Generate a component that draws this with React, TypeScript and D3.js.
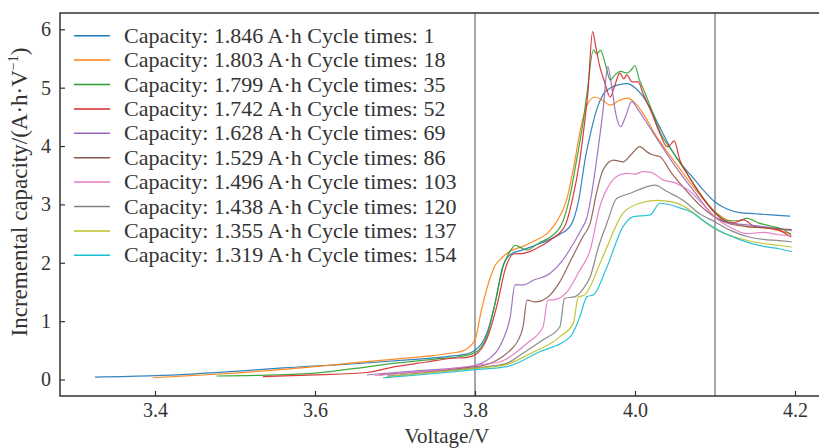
import React from 'react';
import * as d3 from 'd3';

// incremental capacity curves, [voltage, dQ/dV]
const cycle1 = [[3.325,0.04],[3.40,0.065],[3.50,0.14],[3.56,0.2],[3.65,0.27],[3.72,0.34],[3.77,0.4],[3.79,0.44],[3.80,0.5],[3.815,0.8],[3.825,1.3],[3.835,1.95],[3.845,2.15],[3.86,2.22],[3.875,2.3],[3.89,2.38],[3.905,2.48],[3.92,2.65],[3.93,3.1],[3.9375,3.76],[3.945,4.25],[3.952,4.62],[3.96,4.88],[3.97,5.0],[3.98,5.05],[3.99,5.07],[4.0,5.0],[4.01,4.85],[4.02,4.62],[4.03,4.35],[4.045,3.95],[4.06,3.65],[4.073,3.45],[4.085,3.25],[4.1,3.04],[4.115,2.92],[4.131,2.86],[4.15,2.84],[4.17,2.82],[4.194,2.8]];
const cycle18 = [[3.397,0.03],[3.45,0.07],[3.5,0.11],[3.55,0.16],[3.6,0.22],[3.644,0.28],[3.7,0.35],[3.74,0.4],[3.769,0.45],[3.785,0.49],[3.8,0.68],[3.808,1.19],[3.818,1.7],[3.825,1.95],[3.831,2.05],[3.844,2.2],[3.86,2.28],[3.875,2.38],[3.89,2.5],[3.902,2.7],[3.915,3.1],[3.925,3.76],[3.932,4.3],[3.94,4.7],[3.95,4.84],[3.96,4.78],[3.969,4.7],[3.98,4.78],[3.99,4.82],[4.0,4.74],[4.01,4.56],[4.027,4.16],[4.048,3.76],[4.073,3.3],[4.1,2.87],[4.12,2.7],[4.14,2.62],[4.16,2.6],[4.18,2.55],[4.195,2.5]];
const cycle35 = [[3.477,0.06],[3.55,0.08],[3.6,0.11],[3.65,0.19],[3.7,0.28],[3.75,0.35],[3.78,0.39],[3.8,0.46],[3.815,0.75],[3.825,1.3],[3.835,1.93],[3.845,2.22],[3.85,2.3],[3.857,2.26],[3.865,2.22],[3.88,2.34],[3.895,2.45],[3.908,2.65],[3.918,3.1],[3.927,3.76],[3.935,4.4],[3.94,4.9],[3.948,5.65],[3.952,5.58],[3.957,5.64],[3.963,5.4],[3.969,5.13],[3.975,5.22],[3.982,5.28],[3.99,5.25],[3.995,5.3],[4.0,5.38],[4.005,5.15],[4.01,4.99],[4.02,4.65],[4.031,4.25],[4.048,3.88],[4.065,3.53],[4.081,3.19],[4.1,2.87],[4.115,2.72],[4.13,2.72],[4.14,2.76],[4.155,2.68],[4.17,2.63],[4.185,2.57],[4.195,2.48]];
const cycle52 = [[3.535,0.05],[3.6,0.08],[3.665,0.12],[3.7,0.22],[3.74,0.3],[3.769,0.36],[3.79,0.38],[3.8,0.42],[3.815,0.7],[3.828,1.3],[3.838,1.9],[3.848,2.15],[3.86,2.16],[3.87,2.2],[3.88,2.27],[3.895,2.4],[3.912,2.62],[3.922,3.1],[3.931,3.76],[3.937,4.4],[3.941,4.9],[3.947,5.96],[3.951,5.7],[3.956,5.36],[3.962,5.1],[3.969,4.84],[3.975,5.05],[3.981,5.25],[3.986,5.15],[3.99,5.22],[3.996,5.1],[4.004,5.1],[4.01,4.9],[4.02,4.6],[4.031,4.22],[4.04,3.99],[4.044,4.02],[4.049,4.09],[4.056,3.76],[4.065,3.53],[4.081,3.19],[4.1,2.85],[4.112,2.72],[4.123,2.68],[4.135,2.74],[4.15,2.62],[4.165,2.6],[4.18,2.56],[4.195,2.44]];
const cycle69 = [[3.665,0.08],[3.7,0.12],[3.75,0.17],[3.78,0.2],[3.8,0.24],[3.81,0.29],[3.819,0.37],[3.828,0.5],[3.835,0.68],[3.844,1.07],[3.85,1.62],[3.86,1.62],[3.873,1.7],[3.894,1.82],[3.91,2.05],[3.923,2.33],[3.932,2.55],[3.94,2.78],[3.946,3.2],[3.952,3.76],[3.96,4.61],[3.966,5.36],[3.971,5.0],[3.976,4.55],[3.982,4.33],[3.988,4.5],[3.996,4.76],[4.004,4.62],[4.015,4.39],[4.031,4.05],[4.048,3.7],[4.073,3.24],[4.1,2.79],[4.12,2.68],[4.14,2.65],[4.16,2.62],[4.18,2.58],[4.196,2.55]];
const cycle86 = [[3.68,0.08],[3.72,0.12],[3.76,0.16],[3.8,0.22],[3.81,0.24],[3.823,0.3],[3.835,0.4],[3.844,0.5],[3.855,0.7],[3.86,0.9],[3.865,1.36],[3.875,1.33],[3.89,1.4],[3.905,1.65],[3.92,2.05],[3.935,2.45],[3.944,2.68],[3.952,3.2],[3.96,3.59],[3.973,3.76],[3.985,3.73],[3.995,3.85],[4.006,3.99],[4.015,3.9],[4.022,3.85],[4.031,3.82],[4.045,3.55],[4.06,3.3],[4.08,3.0],[4.1,2.78],[4.12,2.66],[4.14,2.62],[4.16,2.6],[4.18,2.58],[4.196,2.57]];
const cycle103 = [[3.675,0.07],[3.72,0.12],[3.76,0.17],[3.8,0.24],[3.815,0.27],[3.831,0.3],[3.85,0.45],[3.865,0.62],[3.885,0.9],[3.891,1.36],[3.9,1.37],[3.915,1.5],[3.93,1.85],[3.944,2.22],[3.956,2.96],[3.969,3.36],[3.98,3.5],[3.99,3.53],[4.0,3.52],[4.01,3.56],[4.02,3.55],[4.035,3.42],[4.052,3.36],[4.069,3.22],[4.085,3.0],[4.1,2.78],[4.12,2.6],[4.14,2.5],[4.16,2.52],[4.18,2.48],[4.196,2.46]];
const cycle120 = [[3.69,0.06],[3.74,0.12],[3.8,0.2],[3.82,0.23],[3.84,0.28],[3.86,0.45],[3.885,0.68],[3.906,0.9],[3.912,1.39],[3.925,1.42],[3.935,1.55],[3.944,1.76],[3.955,2.3],[3.965,2.68],[3.977,3.1],[3.994,3.19],[4.01,3.28],[4.025,3.33],[4.04,3.22],[4.06,3.07],[4.08,2.85],[4.1,2.7],[4.12,2.55],[4.14,2.45],[4.16,2.4],[4.18,2.38],[4.196,2.36]];
const cycle137 = [[3.69,0.05],[3.74,0.11],[3.8,0.19],[3.8375,0.25],[3.87,0.45],[3.906,0.73],[3.923,0.97],[3.929,1.41],[3.937,1.45],[3.944,1.59],[3.955,1.95],[3.965,2.27],[3.985,2.85],[4.006,3.02],[4.027,3.07],[4.048,3.04],[4.069,2.9],[4.085,2.72],[4.1,2.58],[4.13,2.42],[4.16,2.33],[4.18,2.3],[4.196,2.27]];
const cycle154 = [[3.685,0.03],[3.74,0.09],[3.8,0.17],[3.84,0.22],[3.88,0.47],[3.919,0.73],[3.931,1.07],[3.94,1.42],[3.948,1.45],[3.965,1.93],[3.985,2.62],[3.998,2.79],[4.019,2.82],[4.031,3.02],[4.045,2.99],[4.056,2.94],[4.07,2.87],[4.085,2.73],[4.1,2.59],[4.13,2.4],[4.16,2.28],[4.18,2.24],[4.196,2.19]];

const capacities = ['1.846', '1.803', '1.799', '1.742', '1.628', '1.529', '1.496', '1.438', '1.355', '1.319'];
const cycles = [1, 18, 35, 52, 69, 86, 103, 120, 137, 154];
const curves = [cycle1, cycle18, cycle35, cycle52, cycle69, cycle86, cycle103, cycle120, cycle137, cycle154];
const xTicks = [3.4, 3.6, 3.8, 4.0, 4.2];
const yTicks = [0, 1, 2, 3, 4, 5, 6];
const markers = [3.8, 4.1];

const colors = ['#1f77b4', '#ff7f0e', '#2ca02c', '#d62728', '#9467bd', '#8c564b', '#e377c2', '#7f7f7f', '#bcbd22', '#17becf'];

const W = 819, H = 448;
const left = 60, right = 830, top = 13, bottom = 396;
const font = "'Liberation Serif', 'DejaVu Serif', serif";

class App extends React.Component {
  node: SVGSVGElement | null = null;

  componentDidMount() {
    document.body.style.margin = '0';
    this.draw();
  }

  draw() {
    const svg = d3.select(this.node);
    svg.selectAll('*').remove();

    const x = d3.scaleLinear().domain([3.4, 4.2]).range([155, 795]);
    const y = d3.scaleLinear().domain([0, 6]).range([379.5, 29.3]);

    // marker lines
    svg.selectAll('line.mark').data(markers).enter().append('line')
      .attr('class', 'mark')
      .attr('x1', d => x(d)).attr('x2', d => x(d))
      .attr('y1', top).attr('y2', bottom)
      .attr('stroke', '#8a8a8a').attr('stroke-width', 1.5);

    const line = d3.line<number[]>()
      .x(d => x(d[0]))
      .y(d => y(d[1]))
      .curve(d3.curveMonotoneX);

    svg.append('g').selectAll('path').data(curves).enter().append('path')
      .attr('d', d => line(d))
      .attr('fill', 'none')
      .attr('stroke', (d, i) => colors[i])
      .attr('stroke-width', 1.2)
      .attr('stroke-opacity', 0.9);

    // frame
    svg.append('path')
      .attr('d', `M${right},${top}H${left}V${bottom}H${right}`)
      .attr('fill', 'none').attr('stroke', '#333').attr('stroke-width', 1.5);

    const xAxis = d3.axisBottom(x).tickValues(xTicks).tickFormat(d3.format('.1f')).tickSizeInner(-5).tickSizeOuter(0).tickPadding(7);
    const gx = svg.append('g').attr('transform', `translate(0,${bottom})`).call(xAxis);
    gx.select('.domain').remove();

    const yAxis = d3.axisLeft(y).tickValues(yTicks).tickFormat(d3.format('d')).tickSizeInner(-5).tickSizeOuter(0).tickPadding(9);
    const gy = svg.append('g').attr('transform', `translate(${left},0)`).call(yAxis);
    gy.select('.domain').remove();

    [gx, gy].forEach(g => {
      g.selectAll('line').attr('stroke', '#333').attr('stroke-width', 1.2);
      g.selectAll('text').style('font-family', font).style('font-size', '20px').attr('fill', '#333');
    });

    svg.append('text')
      .attr('x', 447).attr('y', 443)
      .attr('text-anchor', 'middle')
      .style('font-family', font).style('font-size', '21px').attr('fill', '#333')
      .text('Voltage/V');

    const yl = svg.append('text')
      .attr('transform', 'translate(27,192) rotate(-90)')
      .attr('text-anchor', 'middle')
      .style('font-family', font).style('font-size', '23px').attr('fill', '#333');
    yl.append('tspan').text('Incremental capacity/(A·h·V');
    yl.append('tspan').attr('dy', -9).style('font-size', '14px').text('−1');
    yl.append('tspan').attr('dy', 9).text(')');

    // legend
    const lg = svg.append('g').selectAll('g').data(cycles).enter().append('g')
      .attr('transform', (d, i) => `translate(0,${35.7 + i * 24.4})`);
    lg.append('line')
      .attr('x1', 74).attr('x2', 110)
      .attr('stroke', (d, i) => colors[i]).attr('stroke-width', 1.5);
    lg.append('text')
      .attr('x', 124).attr('y', 7)
      .style('font-family', font).style('font-size', '22px').attr('fill', '#333')
      .text((d, i) => `Capacity: ${capacities[i]} A·h Cycle times: ${d}`);
  }

  render() {
    return (
      <svg ref={node => { this.node = node; }} width={W} height={H} style={{ display: 'block', background: '#fff' }} />
    );
  }
}

export default App;
